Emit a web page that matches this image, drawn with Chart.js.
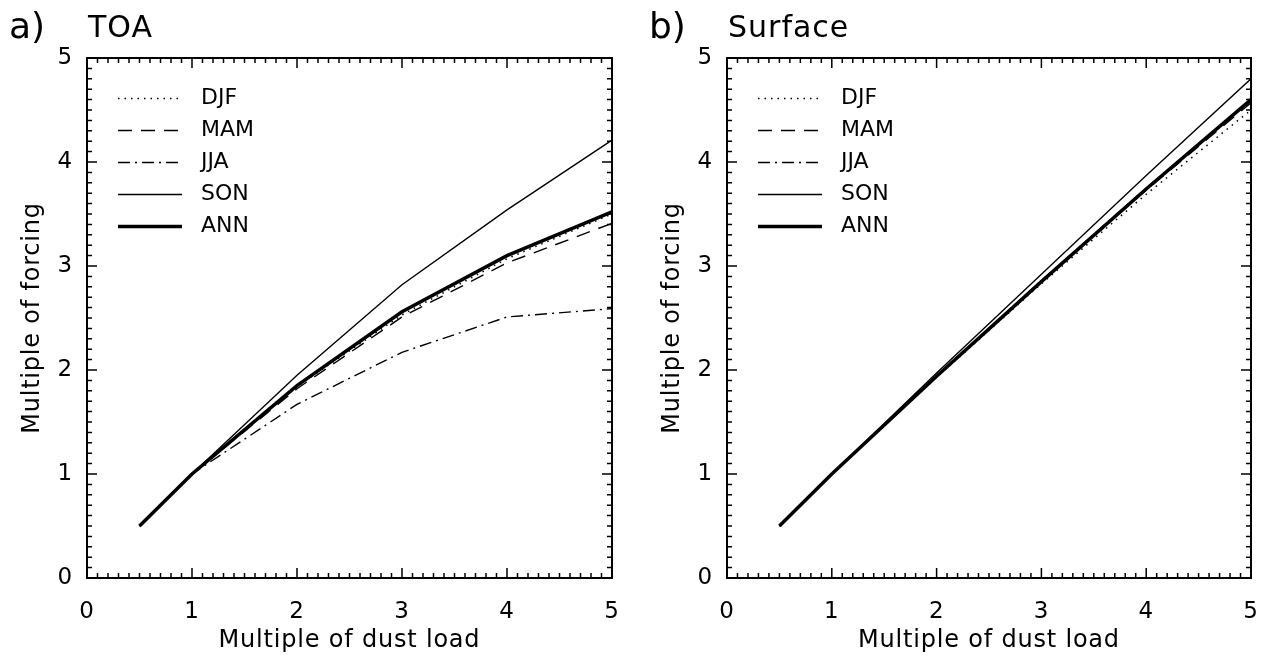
<!DOCTYPE html>
<html><head><meta charset="utf-8">
<script src="https://cdn.jsdelivr.net/npm/chart.js@4.4.0/dist/chart.umd.min.js"></script>
<style>
html,body{margin:0;padding:0;background:#fff;overflow:hidden;}
#wrap{position:relative;width:1264px;height:658px;}
canvas{position:absolute;top:0;}
</style></head><body>
<div id="wrap">
<canvas id="c1" width="632" height="658" style="left:0px"></canvas>
<canvas id="c2" width="624" height="658" style="left:640px"></canvas>
</div>
<script>
// ---- data ----
const dustLoad = [0.5, 1, 2, 3, 4, 5];
const seasons = ['DJF', 'MAM', 'JJA', 'SON', 'ANN'];
const axisTicks = [0, 1, 2, 3, 4, 5];

const toaDJF = [0.5, 1.0, 1.84, 2.53, 3.07, 3.50];
const toaMAM = [0.5, 1.0, 1.82, 2.51, 3.03, 3.41];
const toaJJA = [0.5, 1.0, 1.67, 2.17, 2.51, 2.59];
const toaSON = [0.5, 1.0, 1.95, 2.82, 3.54, 4.21];
const toaANN = [0.5, 1.0, 1.85, 2.56, 3.10, 3.52];

const sfcDJF = [0.5, 1.0, 1.93, 2.83, 3.69, 4.50];
const sfcMAM = [0.5, 1.0, 1.94, 2.85, 3.73, 4.57];
const sfcJJA = [0.5, 1.0, 1.94, 2.86, 3.75, 4.60];
const sfcSON = [0.5, 1.0, 1.97, 2.92, 3.87, 4.80];
const sfcANN = [0.5, 1.0, 1.94, 2.85, 3.74, 4.60];

// ---- styles ----
const FONT = '"DejaVu Sans", sans-serif';
const styles = {
  DJF: {w: 1.5, dash: [1.5, 5]},
  MAM: {w: 1.4, dash: [14, 9]},
  JJA: {w: 1.4, dash: [12, 5, 2, 5]},
  SON: {w: 1.4, dash: []},
  ANN: {w: 3.5, dash: []}
};

const spacingPlugin = {
  id: 'spacing',
  beforeLayout(chart) { chart.ctx.letterSpacing = '0.8px'; },
  beforeDraw(chart) { chart.ctx.letterSpacing = '0.8px'; }
};

function framePlugin(panelLetter, panelTitle) {
  return {
    id: 'frame',
    afterDraw(chart) {
      const {ctx, chartArea: {left, right, top, bottom}, scales: {x, y}} = chart;
      ctx.save();
      ctx.strokeStyle = '#000';
      ctx.lineWidth = 2;
      ctx.strokeRect(left, top, right - left, bottom - top);
      ctx.lineWidth = 1.5;
      ctx.beginPath();
      for (let k = 0; k <= 50; k++) {
        const v = k / 10;
        const len = (k % 10 === 0) ? 10 : 5;
        const px = x.getPixelForValue(v);
        ctx.moveTo(px, bottom); ctx.lineTo(px, bottom - len);
        ctx.moveTo(px, top); ctx.lineTo(px, top + len);
        const py = y.getPixelForValue(v);
        ctx.moveTo(left, py); ctx.lineTo(left + len, py);
        ctx.moveTo(right, py); ctx.lineTo(right - len, py);
      }
      ctx.stroke();
      // legend
      ctx.letterSpacing = '0px';
      ctx.font = '22px ' + FONT;
      ctx.fillStyle = '#000';
      ctx.textBaseline = 'middle';
      chart.data.datasets.forEach((ds, i) => {
        const ly = 98 + i * 32;
        ctx.beginPath();
        ctx.lineWidth = ds.borderWidth;
        ctx.setLineDash(ds.borderDash || []);
        ctx.moveTo(118, ly + 0.5); ctx.lineTo(182, ly + 0.5);
        ctx.stroke();
        ctx.setLineDash([]);
        ctx.fillText(ds.label, 201, ly);
      });
      // titles
      ctx.textBaseline = 'alphabetic';
      ctx.font = '36px ' + FONT;
      ctx.fillText(panelLetter, 9, 38);
      ctx.letterSpacing = '1px';
      ctx.font = '30px ' + FONT;
      ctx.fillText(panelTitle, 88, 37);
      ctx.restore();
    }
  };
}

function makeChart(id, series, letter, title, padRight) {
  const tickFont = {family: FONT, size: 23};
  const titleFont = {family: FONT, size: 24};
  return new Chart(document.getElementById(id), {
    type: 'line',
    data: {
      datasets: seasons.map((s, i) => ({
        label: s,
        data: dustLoad.map((xv, j) => ({x: xv, y: series[i][j]})),
        borderColor: '#000',
        borderWidth: styles[s].w,
        borderDash: styles[s].dash,
        pointRadius: 0,
        fill: false,
        tension: 0
      }))
    },
    options: {
      responsive: false,
      animation: false,
      devicePixelRatio: 1,
      layout: {padding: {left: 0, top: 58, right: padRight, bottom: 0}},
      plugins: {legend: {display: false}, tooltip: {enabled: false}},
      scales: {
        x: {
          type: 'linear', min: 0, max: 5,
          afterBuildTicks(s) { s.ticks = axisTicks.map(v => ({value: v})); },
          grid: {display: false, drawTicks: false},
          border: {display: false},
          ticks: {color: '#000', font: tickFont, padding: 20, maxRotation: 0},
          title: {display: true, text: 'Multiple of dust load', color: '#000', font: titleFont, padding: {top: 0, bottom: 3}},
          afterFit(s) { s.height = 80; s.paddingLeft = 0; s.paddingRight = 0; }
        },
        y: {
          type: 'linear', min: 0, max: 5,
          afterBuildTicks(s) { s.ticks = axisTicks.map(v => ({value: v})); },
          grid: {display: false, drawTicks: false},
          border: {display: false},
          ticks: {color: '#000', font: tickFont, padding: 14},
          title: {display: true, text: 'Multiple of forcing', color: '#000', font: titleFont, padding: {top: 18, bottom: 0}},
          afterFit(s) { s.width = 87; s.paddingTop = 0; s.paddingBottom = 0; }
        }
      }
    },
    plugins: [spacingPlugin, framePlugin(letter, title)]
  });
}

makeChart('c1', [toaDJF, toaMAM, toaJJA, toaSON, toaANN], 'a)', 'TOA', 20);
makeChart('c2', [sfcDJF, sfcMAM, sfcJJA, sfcSON, sfcANN], 'b)', 'Surface', 13);
</script>
</body></html>
